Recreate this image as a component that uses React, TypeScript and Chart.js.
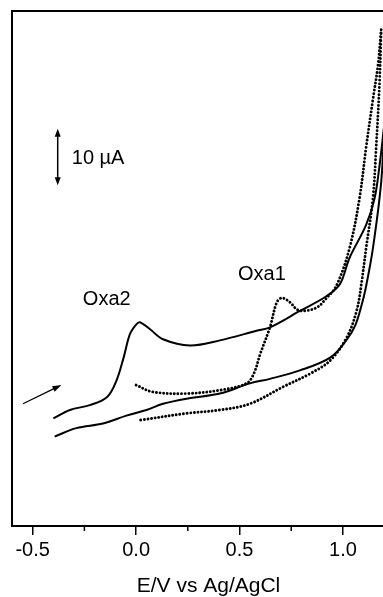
import React, { useEffect, useRef } from "react";
import { Chart, registerables } from "chart.js";

Chart.register(...registerables);

// Solid CV: forward scan (from -0.4 V) and reverse scan
const solidFwdX = [-0.40, -0.32, -0.22, -0.14, -0.095, -0.06, -0.03, 0.0, 0.018, 0.066, 0.13, 0.26, 0.405, 0.582, 0.647, 0.792, 0.92, 0.985, 1.032, 1.112, 1.153, 1.177, 1.20];
const solidFwdY = [19.0, 20.5, 21.4, 22.8, 25.7, 29.8, 33.9, 35.6, 36.0, 34.8, 33.0, 31.9, 32.8, 34.5, 35.1, 38.0, 40.6, 42.7, 47.4, 53.2, 57.9, 63.7, 71.0];
const solidRevX = [1.20, 1.185, 1.145, 1.11, 1.09, 1.06, 1.02, 0.94, 0.792, 0.647, 0.55, 0.405, 0.244, 0.13, 0.05, -0.047, -0.16, -0.289, -0.394];
const solidRevY = [71.0, 60.8, 49.1, 42.0, 39.0, 35.5, 33.0, 29.8, 27.5, 26.0, 25.2, 23.4, 22.5, 21.6, 20.5, 19.5, 18.1, 17.3, 15.8];

// Dotted CV: forward scan (from 0.0 V) and reverse scan
const dotFwdX = [0.0, 0.08, 0.24, 0.405, 0.534, 0.57, 0.60, 0.647, 0.68, 0.705, 0.745, 0.776, 0.808, 0.873, 0.919, 0.969, 1.032, 1.08, 1.112, 1.145, 1.169, 1.185];
const dotFwdY = [24.9, 23.7, 23.4, 24.0, 25.2, 27.0, 30.4, 35.1, 39.5, 40.3, 39.5, 38.3, 38.0, 38.6, 40.2, 42.5, 49.1, 57.9, 66.9, 75.4, 81.3, 87.7];
const dotRevX = [1.185, 1.177, 1.161, 1.145, 1.112, 1.09, 1.066, 1.018, 0.937, 0.84, 0.711, 0.55, 0.405, 0.244, 0.018];
const dotRevY = [87.7, 78.4, 67.2, 57.9, 49.1, 43.0, 38.0, 33.3, 29.2, 26.9, 24.6, 21.6, 20.5, 19.9, 18.7];

const majorTicks = [-0.5, 0.0, 0.5, 1.0];
const minorTicks = [-0.25, 0.25, 0.75, 1.25];
const tickLabels = ["-0.5", "0.0", "0.5", "1.0"];

const FONT = '"Liberation Sans", Arial, sans-serif';

const annot = {
  scaleBar: { x: -0.379, y1: 60.2, y2: 70.2, label: "10 \u00B5A", lx: -0.311, ly: 64.9 },
  arrow: { x1: -0.547, y1: 21.6, x2: -0.361, y2: 24.9 },
  oxa2: { text: "Oxa2", x: -0.142, y: 40.0 },
  oxa1: { text: "Oxa1", x: 0.608, y: 44.4 },
};

function toPts(xs: number[], ys: number[]) {
  return xs.map((x, i) => ({ x, y: ys[i] }));
}

const annotPlugin = {
  id: "annot",
  afterDraw(chart: any) {
    const { ctx, chartArea, scales } = chart;
    const xs = scales.x;
    const ys = scales.y;
    ctx.save();
    ctx.strokeStyle = "#000";
    ctx.fillStyle = "#000";
    // frame
    ctx.lineWidth = 2;
    ctx.strokeRect(chartArea.left, chartArea.top, chartArea.right - chartArea.left, chartArea.bottom - chartArea.top);
    // minor ticks
    ctx.lineWidth = 1.5;
    minorTicks.forEach((v) => {
      const px = xs.getPixelForValue(v);
      ctx.beginPath();
      ctx.moveTo(px, chartArea.bottom);
      ctx.lineTo(px, chartArea.bottom + 5);
      ctx.stroke();
    });
    // scale bar with double arrow
    const sb = annot.scaleBar;
    const bx = xs.getPixelForValue(sb.x);
    const by1 = ys.getPixelForValue(sb.y1);
    const by2 = ys.getPixelForValue(sb.y2);
    ctx.lineWidth = 1.5;
    ctx.beginPath();
    ctx.moveTo(bx, by1 - 4);
    ctx.lineTo(bx, by2 + 4);
    ctx.stroke();
    ctx.beginPath();
    ctx.moveTo(bx, by2);
    ctx.lineTo(bx - 3, by2 + 8);
    ctx.lineTo(bx + 3, by2 + 8);
    ctx.closePath();
    ctx.fill();
    ctx.beginPath();
    ctx.moveTo(bx, by1);
    ctx.lineTo(bx - 3, by1 - 8);
    ctx.lineTo(bx + 3, by1 - 8);
    ctx.closePath();
    ctx.fill();
    // small arrow
    const a = annot.arrow;
    const ax1 = xs.getPixelForValue(a.x1);
    const ay1 = ys.getPixelForValue(a.y1);
    const ax2 = xs.getPixelForValue(a.x2);
    const ay2 = ys.getPixelForValue(a.y2);
    const ang = Math.atan2(ay2 - ay1, ax2 - ax1);
    ctx.lineWidth = 1.3;
    ctx.beginPath();
    ctx.moveTo(ax1, ay1);
    ctx.lineTo(ax2 - 6 * Math.cos(ang), ay2 - 6 * Math.sin(ang));
    ctx.stroke();
    ctx.beginPath();
    ctx.moveTo(ax2, ay2);
    ctx.lineTo(ax2 - 9 * Math.cos(ang) + 3 * Math.sin(ang), ay2 - 9 * Math.sin(ang) - 3 * Math.cos(ang));
    ctx.lineTo(ax2 - 9 * Math.cos(ang) - 3 * Math.sin(ang), ay2 - 9 * Math.sin(ang) + 3 * Math.cos(ang));
    ctx.closePath();
    ctx.fill();
    // texts
    ctx.font = `20px ${FONT}`;
    ctx.textBaseline = "middle";
    ctx.textAlign = "left";
    ctx.fillText(sb.label, xs.getPixelForValue(sb.lx), ys.getPixelForValue(sb.ly));
    ctx.textAlign = "center";
    ctx.fillText(annot.oxa2.text, xs.getPixelForValue(annot.oxa2.x), ys.getPixelForValue(annot.oxa2.y));
    ctx.fillText(annot.oxa1.text, xs.getPixelForValue(annot.oxa1.x), ys.getPixelForValue(annot.oxa1.y));
    ctx.restore();
  },
};

export default function App() {
  const ref = useRef<HTMLCanvasElement | null>(null);
  useEffect(() => {
    if (!ref.current) return;
    const solidStyle = {
      borderColor: "#000",
      borderWidth: 2,
      pointRadius: 0,
      tension: 0.35,
      fill: false,
    };
    const dotStyle = {
      borderColor: "#000",
      borderWidth: 2.9,
      borderDash: [0.01, 3.6],
      borderCapStyle: "round" as const,
      pointRadius: 0,
      tension: 0.35,
      fill: false,
    };
    const chart = new Chart(ref.current, {
      type: "line",
      data: {
        datasets: [
          { ...solidStyle, data: toPts(solidFwdX, solidFwdY) },
          { ...solidStyle, data: toPts(solidRevX, solidRevY) },
          { ...dotStyle, data: toPts(dotFwdX, dotFwdY) },
          { ...dotStyle, data: toPts(dotRevX, dotRevY) },
        ],
      },
      options: {
        animation: false,
        responsive: false,
        devicePixelRatio: 1,
        layout: { padding: { left: 12, top: 11, right: 5, bottom: 0 } },
        plugins: { legend: { display: false }, tooltip: { enabled: false } },
        scales: {
          x: {
            type: "linear",
            min: -0.6,
            max: 1.3,
            border: { display: false },
            grid: { drawOnChartArea: false, drawTicks: true, tickLength: 9, color: "#000", lineWidth: 1.5 },
            afterBuildTicks: (scale: any) => {
              scale.ticks = majorTicks.map((v) => ({ value: v }));
            },
            ticks: {
              includeBounds: false,
              maxRotation: 0,
              autoSkip: false,
              padding: 3,
              color: "#000",
              font: { family: FONT, size: 20 },
              callback: (v: any) => {
                const i = majorTicks.findIndex((m) => Math.abs(m - Number(v)) < 1e-6);
                return i >= 0 ? tickLabels[i] : "";
              },
            },
            title: {
              display: true,
              text: "E/V vs Ag/AgCl",
              color: "#000",
              font: { family: FONT, size: 21, lineHeight: 1 },
              padding: { top: 11, bottom: 0 },
            },
          },
          y: {
            type: "linear",
            display: false,
            min: 0,
            max: 91,
          },
        },
      },
      plugins: [annotPlugin],
    });
    return () => chart.destroy();
  }, []);
  return (
    <div style={{ position: "absolute", left: 0, top: 0, width: 383, height: 597, overflow: "hidden", background: "#fff" }}>
      <canvas ref={ref} width={410} height={597} style={{ display: "block" }} />
    </div>
  );
}
